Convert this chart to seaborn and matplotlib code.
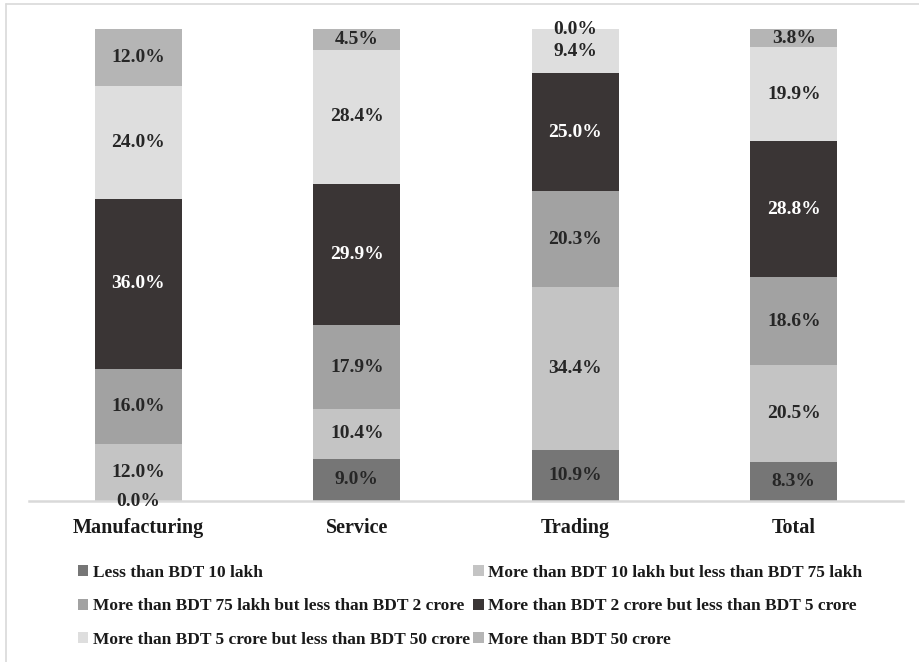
import numpy as np
import pandas as pd
import matplotlib
matplotlib.use("Agg")
import matplotlib.pyplot as plt
from matplotlib.patches import Patch
from matplotlib.lines import Line2D
import seaborn as sns

# Sectors and turnover bands (share of firms, %)
sectors = ["Manufacturing", "Service", "Trading", "Total"]
bands = [
    "Less than BDT 10 lakh",
    "More than BDT 10 lakh but less than BDT 75 lakh",
    "More than BDT 75 lakh but less than BDT 2 crore",
    "More than BDT 2 crore but less than BDT 5 crore",
    "More than BDT 5 crore but less than BDT 50 crore",
    "More than BDT 50 crore",
]
less_10_lakh = [0.0, 9.0, 10.9, 8.3]
lakh_10_75 = [12.0, 10.4, 34.4, 20.5]
lakh_75_crore_2 = [16.0, 17.9, 20.3, 18.6]
crore_2_5 = [36.0, 29.9, 25.0, 28.8]
crore_5_50 = [24.0, 28.4, 9.4, 19.9]
above_50_crore = [12.0, 4.5, 0.0, 3.8]

series = [less_10_lakh, lakh_10_75, lakh_75_crore_2, crore_2_5, crore_5_50, above_50_crore]
colors = ["#767676", "#c4c4c4", "#a2a2a2", "#3a3535", "#dedede", "#b5b5b5"]
text_colors = ["#262626", "#262626", "#262626", "#ffffff", "#262626", "#262626"]

df = pd.DataFrame(np.array(series).T, index=sectors, columns=bands)
tops = df.cumsum(axis=1)
bottoms = tops - df

sns.set_style("white")
plt.rcParams["font.family"] = ["Liberation Serif", "DejaVu Serif"]
plt.rcParams["font.weight"] = "bold"

W, H = 919, 662
fig = plt.figure(figsize=(W / 100, H / 100), dpi=100)
ax = fig.add_axes([29 / W, 1 - 501 / H, 874 / W, 472 / H])

# Stacked bars: draw cumulative heights from the tallest down
for j in range(len(bands) - 1, -1, -1):
    sns.barplot(x=sectors, y=tops[bands[j]].values, color=colors[j], width=0.4,
                saturation=1, edgecolor="none", linewidth=0, ax=ax)

# Value labels at the centre of each segment
for i, sec in enumerate(sectors):
    for j, b in enumerate(bands):
        v = df.loc[sec, b]
        yc = bottoms.loc[sec, b] + v / 2
        ax.text(i, yc, f"{v:.1f}%", ha="center", va="center", fontsize=14,
                fontweight="bold", color=text_colors[j])

ax.set_xlim(-0.5, 3.5)
ax.set_ylim(0, 100)
ax.set_yticks([])
ax.set_ylabel("")
for s in ["top", "right", "left"]:
    ax.spines[s].set_visible(False)
ax.spines["bottom"].set_color("#d9d9d9")
ax.spines["bottom"].set_linewidth(1.8)
ax.tick_params(axis="x", length=0, pad=12, labelsize=14.5)
for lab in ax.get_xticklabels():
    lab.set_fontweight("bold")
    lab.set_color("#1a1a1a")

# Legend in two columns, row-wise order
handles = [Patch(facecolor=c, edgecolor="none") for c in colors]
order = [0, 2, 4, 1, 3, 5]
leg = fig.legend([handles[k] for k in order], [bands[k] for k in order],
                 ncol=2, loc="upper left", bbox_to_anchor=(78 / W, 1 - 565 / H),
                 frameon=False, fontsize=12.5, handlelength=0.6, handleheight=0.6,
                 handletextpad=0.25, columnspacing=0.2, labelspacing=1.0,
                 borderaxespad=0, borderpad=0)
for t in leg.get_texts():
    t.set_fontweight("bold")
    t.set_color("#1a1a1a")

# Outer frame
fig.add_artist(Line2D([6 / W, 6 / W], [0, 1 - 4 / H], transform=fig.transFigure,
                      color="#d9d9d9", lw=1.2))
fig.add_artist(Line2D([6 / W, 1], [1 - 4 / H, 1 - 4 / H], transform=fig.transFigure,
                      color="#d9d9d9", lw=1.2))

fig.savefig("out.png", dpi=100, facecolor="white")
